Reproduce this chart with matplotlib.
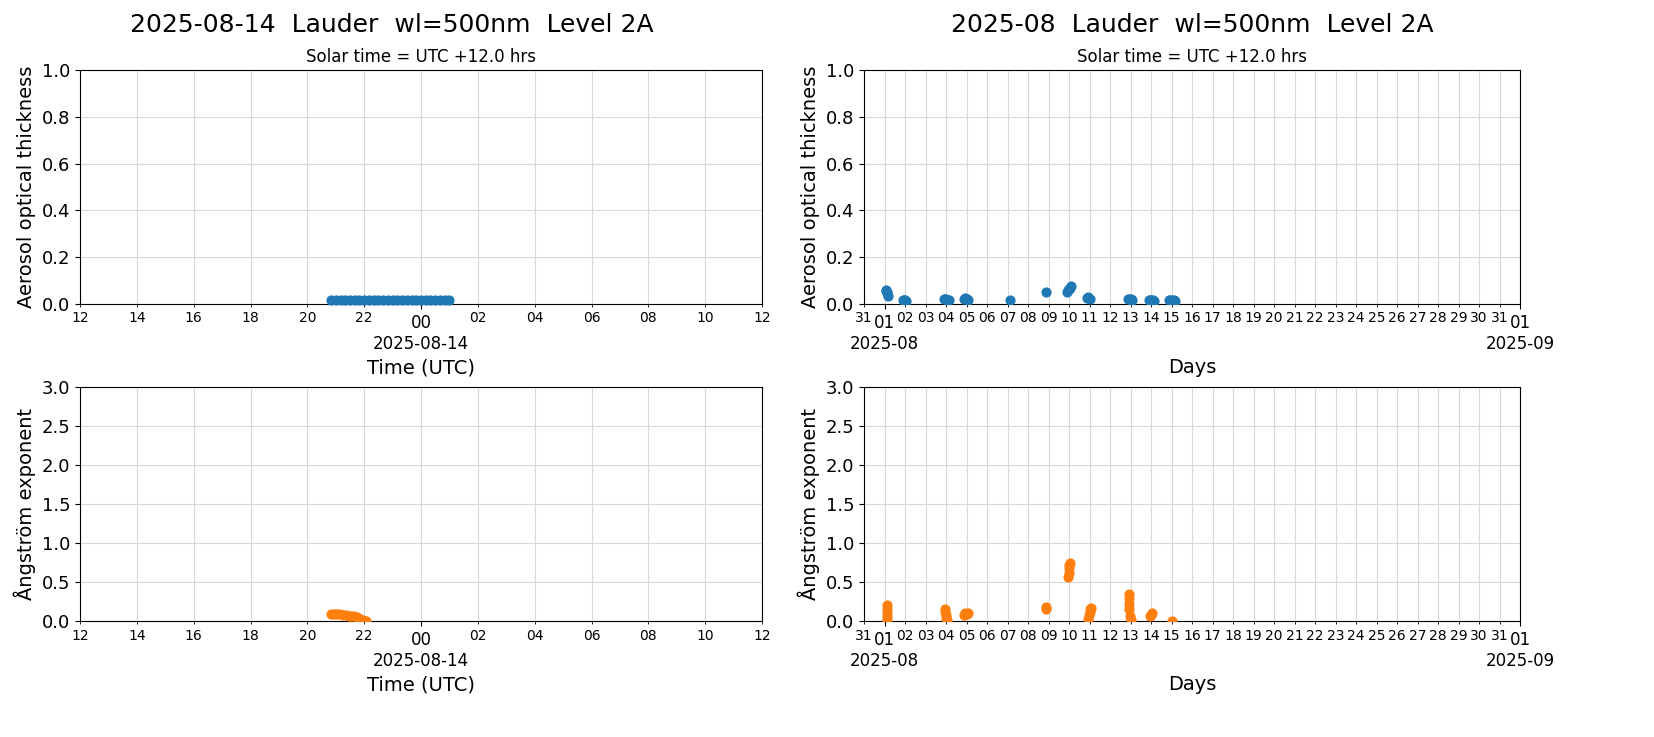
import matplotlib
matplotlib.use("Agg")
import matplotlib.pyplot as plt
import matplotlib.dates as mdates
from datetime import datetime, timedelta

# ---- data ----
day_start = datetime(2025, 8, 13, 12)
# hours since 2025-08-13 12:00 UTC
day_aod_hours = [8.83, 9.0, 9.17, 9.33, 9.5, 9.67, 9.83, 10.0, 10.17, 10.33, 10.5, 10.67, 10.83,
                 11.0, 11.17, 11.33, 11.5, 11.67, 11.83, 12.0, 12.17, 12.33, 12.5, 12.67, 12.83, 13.0]
day_aod = [0.015, 0.015, 0.015, 0.015, 0.015, 0.015, 0.015, 0.015, 0.015, 0.015, 0.015, 0.015, 0.015,
           0.015, 0.015, 0.015, 0.015, 0.015, 0.015, 0.015, 0.015, 0.015, 0.015, 0.015, 0.015, 0.015]
day_ae_hours = [8.85, 8.95, 9.05, 9.15, 9.25, 9.35, 9.45, 9.55, 9.65, 9.75, 9.85, 9.95, 10.05]
day_ae = [0.09, 0.09, 0.085, 0.085, 0.08, 0.08, 0.07, 0.065, 0.06, 0.045, 0.03, 0.015, 0.005]

# day-of-August (fractional)
mon_aod_days = [1.05, 1.08, 1.1, 1.12, 1.15, 1.9, 1.95, 2.0, 2.05, 3.9, 3.95, 4.0, 4.1, 4.15,
                4.9, 4.95, 5.0, 5.05, 7.1, 8.9, 9.9, 9.95, 10.0, 10.05, 10.1, 10.9, 10.95, 11.0,
                12.9, 12.95, 13.0, 13.05, 13.9, 13.95, 14.0, 14.1, 14.15, 14.9, 14.95, 15.0, 15.1, 15.15]
mon_aod = [0.06, 0.055, 0.05, 0.045, 0.035, 0.015, 0.015, 0.015, 0.012, 0.02, 0.02, 0.02, 0.018, 0.018,
           0.022, 0.025, 0.022, 0.018, 0.015, 0.05, 0.05, 0.06, 0.065, 0.07, 0.075, 0.025, 0.028, 0.022,
           0.02, 0.02, 0.02, 0.018, 0.015, 0.015, 0.015, 0.015, 0.013, 0.015, 0.015, 0.015, 0.015, 0.013]
mon_ae_days = [1.1, 1.1, 1.1, 1.1, 1.1, 3.95, 3.97, 4.0, 4.02, 4.05, 4.9, 4.95, 5.0, 5.05, 8.9, 8.9,
               9.97, 9.98, 10.0, 10.02, 10.05, 10.95, 10.97, 11.0, 11.02, 11.05,
               12.92, 12.93, 12.95, 12.95, 12.97, 13.0, 13.95, 14.0, 14.05, 15.0]
mon_ae = [0.2, 0.15, 0.1, 0.05, 0.01, 0.16, 0.12, 0.08, 0.04, 0.01, 0.08, 0.1, 0.09, 0.1, 0.15, 0.18,
          0.56, 0.62, 0.68, 0.72, 0.74, 0.03, 0.08, 0.12, 0.15, 0.17,
          0.35, 0.3, 0.22, 0.15, 0.07, 0.01, 0.06, 0.08, 0.1, 0.0]

BLUE, ORANGE = "#1f77b4", "#ff7f0e"

fig = plt.figure(figsize=(16.54, 7.37), dpi=100)
W, H = 1654, 737
def ax_at(x0, y0, x1, y1):
    return fig.add_axes([x0 / W, 1 - y1 / H, (x1 - x0) / W, (y1 - y0) / H])

axes = [ax_at(80, 70, 762, 304), ax_at(864, 70, 1520, 304),
        ax_at(80, 387, 762, 621), ax_at(864, 387, 1520, 621)]

def to_dt_h(hs):
    return [day_start + timedelta(hours=h) for h in hs]
def to_dt_d(ds):
    return [datetime(2025, 8, 1) + timedelta(days=d - 1) for d in ds]

axes[0].scatter(to_dt_h(day_aod_hours), day_aod, s=40, color=BLUE, zorder=3, clip_on=False)
axes[2].scatter(to_dt_h(day_ae_hours), day_ae, s=40, color=ORANGE, zorder=3, clip_on=True)
axes[1].scatter(to_dt_d(mon_aod_days), mon_aod, s=40, color=BLUE, zorder=3)
axes[3].scatter(to_dt_d(mon_ae_days), mon_ae, s=40, color=ORANGE, zorder=3)

for i, ax in enumerate(axes):
    ax.grid(True, which="both", color="#d9d9d9", lw=0.8)
    ax.set_axisbelow(True)
    ax.tick_params(axis="y", labelsize=13)
    if i in (0, 2):
        ax.set_xlim(day_start, day_start + timedelta(hours=24))
        ax.xaxis.set_major_locator(mdates.HourLocator(byhour=[0]))
        ax.xaxis.set_major_formatter(mdates.DateFormatter("%H\n%Y-%m-%d"))
        ax.xaxis.set_minor_locator(mdates.HourLocator(interval=2))
        ax.xaxis.set_minor_formatter(mdates.DateFormatter("%H"))
        ax.set_xlabel("Time (UTC)", fontsize=14)
    else:
        ax.set_xlim(datetime(2025, 7, 31), datetime(2025, 9, 1))
        ax.xaxis.set_major_locator(mdates.DayLocator(bymonthday=[1]))
        ax.xaxis.set_major_formatter(mdates.DateFormatter("%d\n%Y-%m"))
        ax.xaxis.set_minor_locator(mdates.DayLocator())
        ax.xaxis.set_minor_formatter(mdates.DateFormatter("%d"))
        ax.set_xlabel("Days", fontsize=14)
    ax.tick_params(axis="x", which="major", labelsize=12)
    ax.tick_params(axis="x", which="minor", labelsize=10)
    if i < 2:
        ax.set_ylim(0, 1)
        ax.set_ylabel("Aerosol optical thickness", fontsize=14)
        ax.set_title("Solar time = UTC +12.0 hrs", fontsize=12)
    else:
        ax.set_ylim(0, 3)
        ax.set_ylabel("Ångström exponent", fontsize=14)

fig.text(392 / W, 1 - 25 / H, "2025-08-14  Lauder  wl=500nm  Level 2A", fontsize=18, ha="center", va="center")
fig.text(1192 / W, 1 - 25 / H, "2025-08  Lauder  wl=500nm  Level 2A", fontsize=18, ha="center", va="center")

fig.savefig("out.png", dpi=100)
